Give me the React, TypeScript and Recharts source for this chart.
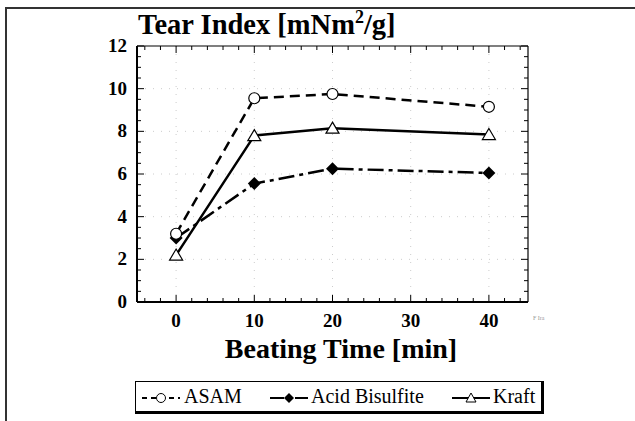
import React from "react";
import { CartesianGrid, Line, LineChart, XAxis, YAxis } from "recharts";

const times = [0, 10, 20, 40];
const asam = [3.2, 9.55, 9.75, 9.15];
const acidBisulfite = [3.0, 5.55, 6.25, 6.05];
const kraft = [2.2, 7.8, 8.15, 7.85];

const xTicks = [-4, -2, 0, 2, 4, 6, 8, 10, 12, 14, 16, 18, 20, 22, 24, 26, 28, 30, 32, 34, 36, 38, 40, 42, 44];
const xLabels = [0, 10, 20, 30, 40];
const yTicks = [0, 0.5, 1, 1.5, 2, 2.5, 3, 3.5, 4, 4.5, 5, 5.5, 6, 6.5, 7, 7.5, 8, 8.5, 9, 9.5, 10, 10.5, 11, 11.5, 12];
const yLabels = [0, 2, 4, 6, 8, 10, 12];

const data = times.map((t, i) => ({
  t,
  asam: asam[i],
  acid: acidBisulfite[i],
  kraft: kraft[i],
}));

const serif = "'Liberation Serif', 'Times New Roman', serif";

function BottomTick(props: any) {
  const { x, y, payload } = props;
  const major = xLabels.includes(payload.value);
  return (
    <g>
      <line x1={x} x2={x} y1={y} y2={y - (major ? 7 : 4)} stroke="#000" strokeWidth={1} />
      {major && (
        <text x={x} y={y + 25} textAnchor="middle" fontFamily={serif} fontWeight="bold" fontSize={19} fill="#000">
          {payload.value}
        </text>
      )}
    </g>
  );
}

function TopTick(props: any) {
  const { x, y, payload } = props;
  const major = xLabels.includes(payload.value);
  return <line x1={x} x2={x} y1={y} y2={y + (major ? 7 : 4)} stroke="#000" strokeWidth={1} />;
}

function LeftTick(props: any) {
  const { x, y, payload } = props;
  const major = yLabels.includes(payload.value);
  return (
    <g>
      <line x1={x} x2={x + (major ? 7 : 4)} y1={y} y2={y} stroke="#000" strokeWidth={1} />
      {major && (
        <text x={x - 10} y={y + 6} textAnchor="end" fontFamily={serif} fontWeight="bold" fontSize={19} fill="#000">
          {payload.value}
        </text>
      )}
    </g>
  );
}

function RightTick(props: any) {
  const { x, y, payload } = props;
  const major = yLabels.includes(payload.value);
  return <line x1={x} x2={x - (major ? 7 : 4)} y1={y} y2={y} stroke="#000" strokeWidth={1} />;
}

function CircleDot(props: any) {
  const { cx, cy } = props;
  if (cx == null || cy == null) return null;
  return <circle cx={cx} cy={cy} r={5.5} fill="#fff" stroke="#000" strokeWidth={1.2} />;
}

function DiamondDot(props: any) {
  const { cx, cy } = props;
  if (cx == null || cy == null) return null;
  const s = 6.5;
  return <polygon points={`${cx},${cy - s} ${cx + s},${cy} ${cx},${cy + s} ${cx - s},${cy}`} fill="#000" />;
}

function TriangleDot(props: any) {
  const { cx, cy } = props;
  if (cx == null || cy == null) return null;
  return (
    <polygon
      points={`${cx},${cy - 6} ${cx + 6.5},${cy + 5} ${cx - 6.5},${cy + 5}`}
      fill="#fff"
      stroke="#000"
      strokeWidth={1.2}
    />
  );
}

const legendItems = [
  { name: "ASAM", dash: "5 4", marker: "circle", sx: 5, tx: 48 },
  { name: "Acid Bisulfite", dash: "14 4 3 4", marker: "diamond", sx: 133, tx: 175 },
  { name: "Kraft", dash: "", marker: "triangle", sx: 315, tx: 357 },
];

function LegendSymbol({ dash, marker }: { dash: string; marker: string }) {
  return (
    <svg width={40} height={16} style={{ position: "absolute", top: 8 }}>
      <line x1={1} x2={39} y1={8} y2={8} stroke="#000" strokeWidth={1.8} strokeDasharray={dash || undefined} />
      {marker === "circle" && <circle cx={20} cy={8} r={4.5} fill="#fff" stroke="#000" strokeWidth={1} />}
      {marker === "diamond" && <polygon points="20,3 25,8 20,13 15,8" fill="#000" />}
      {marker === "triangle" && <polygon points="20,3 25,12 15,12" fill="#fff" stroke="#000" strokeWidth={1} />}
    </svg>
  );
}

export default function App() {
  return (
    <div style={{ position: "fixed", left: 0, top: 0, width: 635, height: 421, background: "#fff", overflow: "hidden" }}>
      <div
        style={{
          position: "absolute",
          left: 5,
          top: 7,
          width: 660,
          height: 440,
          borderTop: "2px solid #333",
          borderLeft: "2px solid #333",
        }}
      />
      <LineChart width={635} height={421} data={data} margin={{ top: 36, right: 97, bottom: 89, left: 107 }}>
        <CartesianGrid
          stroke="#ccc"
          strokeDasharray="1 7"
          horizontalValues={[2, 4, 6, 8, 10]}
          verticalValues={[0, 10, 20, 30, 40]}
        />
        <XAxis
          type="number"
          dataKey="t"
          domain={[-5, 45]}
          allowDataOverflow
          ticks={xTicks}
          interval={0}
          height={30}
          tickSize={0}
          tickMargin={0}
          tickLine={false}
          axisLine={{ stroke: "#000", strokeWidth: 2 }}
          tick={(p: any) => <BottomTick {...p} />}
        />
        <XAxis
          xAxisId="top"
          orientation="top"
          type="number"
          dataKey="t"
          domain={[-5, 45]}
          allowDataOverflow
          ticks={xTicks}
          interval={0}
          height={10}
          tickSize={0}
          tickMargin={0}
          tickLine={false}
          axisLine={{ stroke: "#000", strokeWidth: 1.2 }}
          tick={(p: any) => <TopTick {...p} />}
        />
        <YAxis
          type="number"
          domain={[0, 12]}
          allowDataOverflow
          ticks={yTicks}
          interval={0}
          width={30}
          tickSize={0}
          tickMargin={0}
          tickLine={false}
          axisLine={{ stroke: "#000", strokeWidth: 2 }}
          tick={(p: any) => <LeftTick {...p} />}
        />
        <YAxis
          yAxisId="right"
          orientation="right"
          type="number"
          domain={[0, 12]}
          allowDataOverflow
          ticks={yTicks}
          interval={0}
          width={10}
          tickSize={0}
          tickMargin={0}
          tickLine={false}
          axisLine={{ stroke: "#000", strokeWidth: 1.2 }}
          tick={(p: any) => <RightTick {...p} />}
        />
        <Line
          type="linear"
          dataKey="acid"
          name="Acid Bisulfite"
          stroke="#000"
          strokeWidth={2.5}
          strokeDasharray="16 5 4 5"
          dot={<DiamondDot />}
          isAnimationActive={false}
        />
        <Line
          type="linear"
          dataKey="kraft"
          name="Kraft"
          stroke="#000"
          strokeWidth={2.5}
          dot={<TriangleDot />}
          isAnimationActive={false}
        />
        <Line
          type="linear"
          dataKey="asam"
          name="ASAM"
          stroke="#000"
          strokeWidth={2.5}
          strokeDasharray="10 6"
          dot={<CircleDot />}
          isAnimationActive={false}
        />
      </LineChart>
      <svg width={635} height={421} style={{ position: "absolute", left: 0, top: 0, pointerEvents: "none" }}>
        <text x={138} y={34} fontFamily={serif} fontWeight="bold" fontSize={28.5} fill="#000">
          Tear Index [mNm
          <tspan fontSize={18} dy={-11}>2</tspan>
          <tspan dy={11}>/g]</tspan>
        </text>
        <text x={341} y={358} textAnchor="middle" fontFamily={serif} fontWeight="bold" fontSize={28} fill="#000">
          Beating Time [min]
        </text>
        <text x={533} y={320} fontFamily={serif} fontSize={6} fill="#999">
          F Ira
        </text>
      </svg>
      <div
        style={{
          position: "absolute",
          left: 135,
          top: 381,
          width: 405,
          height: 29,
          border: "1px solid #000",
          borderRightWidth: 3,
          borderBottomWidth: 3,
          fontFamily: serif,
          fontSize: 20,
          color: "#000",
        }}
      >
        {legendItems.map((it) => (
          <React.Fragment key={it.name}>
            <div style={{ position: "absolute", left: it.sx, top: 0 }}>
              <LegendSymbol dash={it.dash} marker={it.marker} />
            </div>
            <span style={{ position: "absolute", left: it.tx, top: 3, lineHeight: "22px", whiteSpace: "nowrap" }}>
              {it.name}
            </span>
          </React.Fragment>
        ))}
      </div>
    </div>
  );
}
